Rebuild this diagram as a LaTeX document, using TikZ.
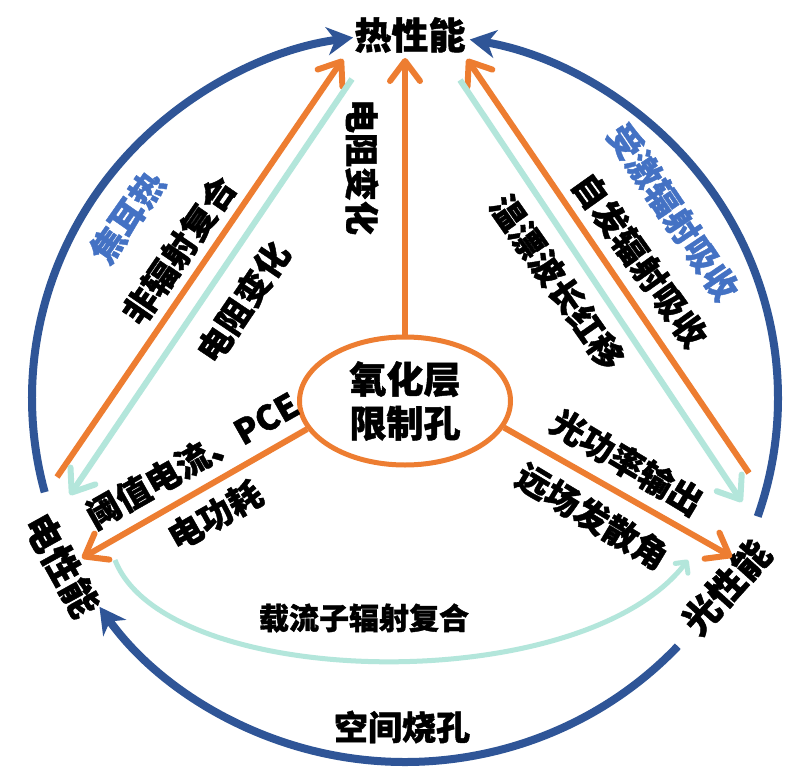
\documentclass[tikz,border=0pt]{standalone}
\usepackage{fontspec}
\setmainfont{Noto Sans CJK SC}[BoldFeatures={FakeBold=1.2}]
\usetikzlibrary{arrows.meta,shapes.geometric,calc}
\definecolor{org}{HTML}{ED7D31}
\definecolor{tealc}{HTML}{B3E6DB}
\definecolor{navy}{HTML}{2F5597}
\definecolor{lblue}{HTML}{4472C4}
\begin{document}
\begin{tikzpicture}[x=1pt,y=-1pt,
  lbl/.style={font=\bfseries\fontsize{34}{38}\selectfont, inner sep=0pt, text=black},
  big/.style={font=\bfseries\fontsize{37}{44}\selectfont, inner sep=0pt, text=black},
  orgline/.style={draw=org, line width=6pt, -{Straight Barb[length=20pt,width=30pt,round]}},
  tealline/.style={draw=tealc, line width=6pt, -{Straight Barb[length=20pt,width=30pt,round]}},
  tealthin/.style={draw=tealc, line width=5pt, -{Straight Barb[length=8pt,width=16pt,round]}},
  bluearc/.style={draw=navy, line width=8pt, -{Stealth[length=26pt,width=28pt,inset=8pt]}},
]
\useasboundingbox (0,0) rectangle (800,781);
\fill[white] (0,0) rectangle (800,781);
\coordinate (C) at (405,398);

% outer blue arcs
\draw[bluearc] ([shift={(165:373 and 364)}]C) arc[start angle=165, end angle=262, x radius=373, y radius=364];
\draw[bluearc] ([shift={(19:373 and 364)}]C) arc[start angle=19, end angle=-80, x radius=373, y radius=364];
\draw[bluearc] ([shift={(43:373 and 364)}]C) arc[start angle=43, end angle=145, x radius=373, y radius=364];

% labels of nodes
\node[big] (heat) at (410,35) {热性能};
\node[big, rotate=-61] (elec) at (62,565) {电性能};
\node[big, rotate=48] (opt) at (726,587) {光性能};

% coordinates for connectors
\coordinate (hL) at (343,59);
\coordinate (hM) at (405,58);
\coordinate (hR) at (467,59);
\coordinate (tL) at (352,79);
\coordinate (tR) at (460,80);
\coordinate (eO) at (57,477);
\coordinate (eT) at (70,495);
\coordinate (eE) at (82,558);
\coordinate (eB) at (115,560);
\coordinate (oO) at (749,473);
\coordinate (oT) at (742,502);
\coordinate (oE) at (732,557);
\coordinate (oB) at (688,560);

\node[draw=org, line width=5pt, ellipse, minimum width=211pt, minimum height=128pt,
      inner sep=0pt, fill=white, align=center, font=\bfseries\fontsize{37}{44}\selectfont] (ell) at (405,401) {氧化层\\限制孔};

\draw[orgline] (eO) -- (hL);
\draw[tealline] (tL) -- (eT);
\draw[orgline] (oO) -- (hR);
\draw[tealline] (tR) -- (oT);
\draw[orgline] (ell.north) -- (hM);
\draw[orgline] (ell.196) -- (eE);
\draw[orgline] (ell.345) -- (oE);
\draw[tealthin] (eB) .. controls (165,690) and (580,700) .. (oB);

% edge labels
\node[lbl, rotate=-90] at (362,167) {电阻变化};
\node[lbl, rotate=55, text=lblue] at (127,217) {焦耳热};
\node[lbl, rotate=55.5] at (179,250) {非辐射复合};
\node[lbl, rotate=56] at (243,302) {电阻变化};
\node[lbl, rotate=29.5] at (192,460) {阈值电流、PCE};
\node[lbl, rotate=29.5] at (215,515) {电功耗};
\node[lbl, rotate=-31] at (627,462) {光功率输出};
\node[lbl, rotate=-31] at (592,516) {远场发散角};
\node[lbl, rotate=-55] at (557,282) {温漂波长红移};
\node[lbl, rotate=-54.5] at (640,260) {自发辐射吸收};
\node[lbl, rotate=-56, text=lblue] at (673,212) {受激辐射吸收};
\node[lbl, font=\bfseries\fontsize{30}{34}\selectfont] at (364,618) {载流子辐射复合};
\node[lbl] at (402,727) {空间烧孔};
\end{tikzpicture}
\end{document}
